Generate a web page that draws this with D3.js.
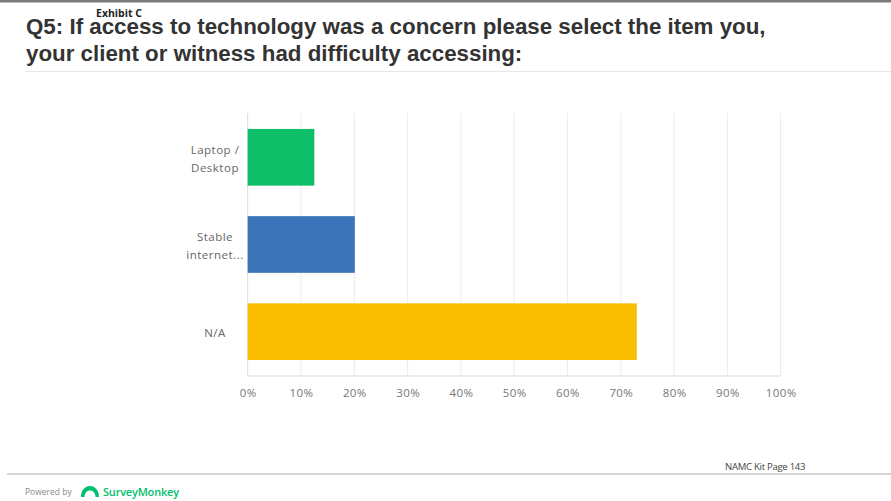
<!DOCTYPE html>
<html>
<head>
<meta charset="utf-8">
<script src="https://cdn.jsdelivr.net/npm/d3@7"></script>
<style>
  html, body { margin: 0; padding: 0; background: #fff; }
  svg { display: block; }
</style>
</head>
<body>
<svg id="chart" width="891" height="501"></svg>
<script>
// Survey answers (share of respondents)
const categories = ["Laptop / Desktop", "Stable internet...", "N/A"];
const categoryLines = [["Laptop /", "Desktop"], ["Stable", "internet..."], ["N/A"]];
const values = [0.125, 0.201, 0.730];
const barColors = ["#0dbf68", "#3c74b9", "#fbbd00"];
const tickValues = [0, 0.1, 0.2, 0.3, 0.4, 0.5, 0.6, 0.7, 0.8, 0.9, 1.0];
const titleLines = [
  "Q5: If access to technology was a concern please select the item you,",
  "your client or witness had difficulty accessing:"
];

const svg = d3.select("#chart");

// page frame: top rule, title rule, footer rule
svg.append("rect").attr("x", 0).attr("y", 0).attr("width", 891).attr("height", 2.5).attr("fill", "#7a7a7a");
svg.append("line").attr("x1", 25).attr("x2", 891).attr("y1", 71.5).attr("y2", 71.5)
  .attr("stroke", "#e6e6e6").attr("stroke-width", 1.2);
svg.append("line").attr("x1", 7).attr("x2", 891).attr("y1", 474).attr("y2", 474)
  .attr("stroke", "#c8c8c8").attr("stroke-width", 1.6);

// title
const title = svg.append("g");
const t1 = title.append("text").attr("x", 26).attr("y", 34)
  .attr("font-family", "Liberation Sans, Arial, sans-serif").attr("font-weight", "bold")
  .attr("font-size", 20).attr("fill", "#333").text(titleLines[0]);
const w = t1.node().getComputedTextLength();
const fs = 20 * 740 / w;
t1.attr("font-size", fs);
title.append("text").attr("x", 26).attr("y", 61)
  .attr("font-family", "Liberation Sans, Arial, sans-serif").attr("font-weight", "bold")
  .attr("font-size", fs).attr("fill", "#333").text(titleLines[1]);

svg.append("text").attr("x", 96).attr("y", 17)
  .attr("font-family", "Open Sans, sans-serif").attr("font-weight", "bold")
  .attr("font-size", 10.5).attr("fill", "#222").text("Exhibit C");

// chart area
const plot = { left: 247.7, right: 780.7, top: 113, bottom: 376 };

const x = d3.scaleLinear().domain([0, 1]).range([plot.left, plot.right]);
const y = d3.scaleBand().domain(categories).range([plot.top, plot.bottom])
  .paddingInner(0.35).paddingOuter(0.183);

// vertical gridlines
svg.append("g").selectAll("line").data(tickValues).join("line")
  .attr("x1", d => x(d)).attr("x2", d => x(d))
  .attr("y1", plot.top).attr("y2", plot.bottom)
  .attr("stroke", d => d === 0 ? "#dcdcdc" : "#ececec").attr("stroke-width", 1);

// baseline
svg.append("line").attr("x1", plot.left).attr("x2", plot.right)
  .attr("y1", plot.bottom).attr("y2", plot.bottom)
  .attr("stroke", "#dcdcdc").attr("stroke-width", 1.2);

// bars
svg.append("g").selectAll("rect").data(categories).join("rect")
  .attr("x", x(0))
  .attr("y", d => y(d))
  .attr("width", (d, i) => x(values[i]) - x(0))
  .attr("height", y.bandwidth())
  .attr("fill", (d, i) => barColors[i]);

// x axis tick labels
const xAxis = d3.axisBottom(x).tickValues(tickValues).tickFormat(d3.format(".0%")).tickSize(0).tickPadding(0);
const gx = svg.append("g").attr("transform", `translate(0,${plot.bottom + 17.5})`).call(xAxis);
gx.select(".domain").remove();
gx.selectAll("text")
  .attr("font-family", "Open Sans, sans-serif").attr("font-size", 11.5)
  .attr("letter-spacing", 0.4).attr("fill", "#777").attr("dy", "0.32em");

// category labels
const labelX = 215;
const lineH = 18;
const lbl = svg.append("g").selectAll("text").data(categories).join("text")
  .attr("text-anchor", "middle")
  .attr("font-family", "Open Sans, sans-serif").attr("font-size", 11.5)
  .attr("letter-spacing", 0.5).attr("fill", "#666");
lbl.each(function(d, i) {
  const lines = categoryLines[i];
  const cy = y(d) + y.bandwidth() / 2 + 1.5;
  const start = cy - (lines.length - 1) * lineH / 2;
  d3.select(this).selectAll("tspan").data(lines).join("tspan")
    .attr("x", labelX).attr("y", (s, j) => start + j * lineH).attr("dy", "0.35em").text(s => s);
});

// footer
svg.append("text").attr("x", 725).attr("y", 470)
  .attr("font-family", "Open Sans, sans-serif").attr("font-size", 9.6)
  .attr("letter-spacing", -0.3).attr("fill", "#444").text("NAMC Kit Page 143");

svg.append("text").attr("x", 25).attr("y", 495)
  .attr("font-family", "Open Sans, sans-serif").attr("font-size", 8.5)
  .attr("fill", "#888").text("Powered by");

// SurveyMonkey mark
svg.append("path")
  .attr("d", "M81,497 C81,490 85,486 90,486 C95,486 99,490 99,497 L95.5,497 C95.5,493 93,490.5 90,490.5 C87,490.5 84.5,493 84.5,497 Z")
  .attr("fill", "#00bf6f");
svg.append("text").attr("x", 103).attr("y", 496)
  .attr("font-family", "Open Sans, sans-serif").attr("font-weight", 600).attr("font-size", 11)
  .attr("letter-spacing", -0.2).attr("fill", "#00bf6f").text("SurveyMonkey");
</script>
</body>
</html>
